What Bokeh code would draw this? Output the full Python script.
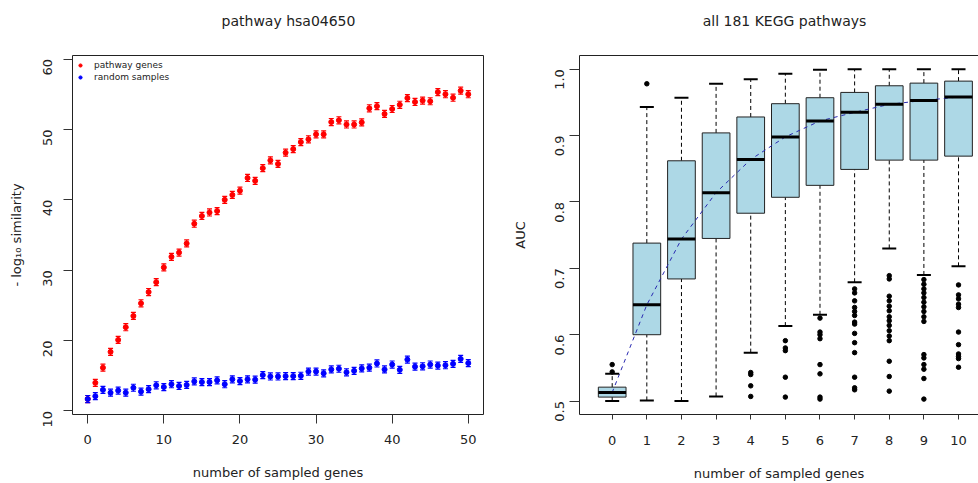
import math
from bokeh.plotting import figure
from bokeh.models import (Range1d, FixedTicker, PrintfTickFormatter, Whisker, TeeHead,
                          ColumnDataSource, Legend, LegendItem, LinearAxis, Label)
from bokeh.layouts import row
from bokeh.embed import file_html
from bokeh.resources import INLINE

# ---------------- data: left panel ----------------
n_genes = list(range(51))
pathway_genes = [11.7, 14.0, 16.15, 18.4, 20.1, 21.9, 23.5, 25.3, 26.9, 28.3,
                 30.4, 31.9, 32.5, 33.8, 36.6, 37.7, 38.2, 38.4, 40.0, 40.7,
                 41.3, 43.1, 42.7, 44.5, 45.6, 45.1, 46.7, 47.2, 48.2, 48.6,
                 49.3, 49.3, 51.05, 51.3, 50.7, 50.7, 51.0, 53.0, 53.3, 52.2,
                 52.9, 53.5, 54.45, 53.9, 54.1, 54.0, 55.3, 55.0, 54.5, 55.5, 55.0]
random_samples = [11.7, 12.1, 13.0, 12.6, 12.9, 12.6, 13.3, 12.75, 13.1, 13.65,
                  13.4, 13.8, 13.55, 13.7, 14.2, 14.1, 14.1, 14.35, 13.8, 14.5,
                  14.25, 14.5, 14.45, 15.1, 14.9, 14.9, 14.95, 14.95, 15.0, 15.6,
                  15.6, 15.35, 15.9, 16.0, 15.5, 15.7, 16.05, 16.15, 16.75, 15.9,
                  16.6, 15.85, 17.3, 16.3, 16.35, 16.6, 16.45, 16.5, 16.7, 17.4, 16.8]
err_half = 0.5
left_xticks = [0, 10, 20, 30, 40, 50]
left_yticks = [10, 20, 30, 40, 50, 60]

# ---------------- data: right panel ----------------
cats = list(range(11))
q1 = [0.506, 0.600, 0.684, 0.745, 0.783, 0.807, 0.825, 0.849, 0.863, 0.863, 0.869]
med = [0.513, 0.645, 0.744, 0.814, 0.864, 0.898, 0.922, 0.935, 0.947, 0.953, 0.958]
q3 = [0.521, 0.738, 0.862, 0.904, 0.928, 0.948, 0.957, 0.965, 0.975, 0.979, 0.982]
whisk_lo = [0.500, 0.501, 0.500, 0.507, 0.573, 0.613, 0.630, 0.679, 0.730, 0.690, 0.703]
whisk_hi = [0.541, 0.943, 0.957, 0.978, 0.985, 0.993, 0.999, 1.000, 1.000, 1.000, 1.000]
outliers = [
    [0.555, 0.544],
    [0.978],
    [],
    [],
    [0.543, 0.540, 0.523, 0.507],
    [0.591, 0.580, 0.576, 0.536, 0.506],
    [0.625, 0.604, 0.600, 0.594, 0.555, 0.541, 0.506, 0.503],
    [0.669, 0.663, 0.651, 0.641, 0.635, 0.629, 0.619, 0.616, 0.602, 0.588, 0.573, 0.536, 0.520, 0.517],
    [0.689, 0.684, 0.658, 0.651, 0.643, 0.636, 0.627, 0.621, 0.614, 0.606, 0.598, 0.591, 0.560, 0.537, 0.515],
    [0.683, 0.676, 0.669, 0.663, 0.656, 0.649, 0.642, 0.635, 0.627, 0.620, 0.570, 0.565, 0.555, 0.548, 0.534, 0.503],
    [0.675, 0.660, 0.654, 0.646, 0.641, 0.604, 0.585, 0.571, 0.567, 0.564, 0.551],
]
right_yticks = [0.5, 0.6, 0.7, 0.8, 0.9, 1.0]

FONT = "DejaVu Sans"
TXT = "#222222"
LINE = "#222222"


def style_axis(ax):
    ax.axis_line_color = None
    ax.minor_tick_line_color = None
    ax.major_tick_in = 0
    ax.major_tick_line_color = "#333333"
    ax.major_label_text_font = FONT
    ax.major_label_text_font_size = "13px"
    ax.major_label_text_color = TXT
    ax.axis_label_text_font = FONT
    ax.axis_label_text_font_size = "13px"
    ax.axis_label_text_font_style = "normal"
    ax.axis_label_text_color = TXT


def title_label(text, x):
    # title drawn in the panel above the frame (screen units relative to that panel)
    return Label(x=x, y=35, x_units="screen", y_units="screen", text=text,
                 text_align="center", text_baseline="middle", text_font=FONT,
                 text_font_size="14px", text_color=TXT)


# ---------------- left panel ----------------
p1 = figure(width=508, height=483, output_backend="svg", toolbar_location=None,
            x_range=Range1d(-2, 52), y_range=Range1d(9.5, 60.5),
            min_border_left=72, min_border_right=25, min_border_top=55, min_border_bottom=68)
p1.grid.visible = False
p1.background_fill_color = "white"
p1.border_fill_color = "white"
p1.outline_line_color = LINE
p1.outline_line_width = 1
xb1 = p1.below[0]
yl1 = p1.left[0]
style_axis(xb1)
style_axis(yl1)
xb1.ticker = FixedTicker(ticks=left_xticks)
yl1.ticker = FixedTicker(ticks=left_yticks)
xb1.major_tick_out = 9
yl1.major_tick_out = 9
xb1.major_label_standoff = 11
yl1.major_label_standoff = 16
yl1.major_label_orientation = math.pi / 2
xb1.axis_label = "number of sampled genes"
yl1.axis_label = "- log\u2081\u2080 similarity"
xb1.axis_label_standoff = 18
yl1.axis_label_standoff = 12
p1.add_layout(title_label("pathway hsa04650", 216), "above")

src_r = ColumnDataSource(dict(x=n_genes, y=pathway_genes,
                              lo=[v - err_half for v in pathway_genes],
                              hi=[v + err_half for v in pathway_genes]))
src_b = ColumnDataSource(dict(x=n_genes, y=random_samples,
                              lo=[v - err_half for v in random_samples],
                              hi=[v + err_half for v in random_samples]))
for src, col in ((src_r, "#ff0000"), (src_b, "#0000ff")):
    p1.add_layout(Whisker(source=src, base="x", upper="hi", lower="lo", dimension="height",
                          line_color=col, line_width=1.2,
                          upper_head=TeeHead(size=5, line_color=col, line_width=1.2),
                          lower_head=TeeHead(size=5, line_color=col, line_width=1.2)))
r_red = p1.scatter("x", "y", source=src_r, size=5, color="#ff0000")
r_blue = p1.scatter("x", "y", source=src_b, size=5, color="#0000ff")

leg = Legend(items=[LegendItem(label="pathway genes", renderers=[r_red]),
                    LegendItem(label="random samples", renderers=[r_blue])],
             location="top_left", padding=0, margin=4, spacing=0,
             glyph_width=8, glyph_height=12, label_height=12, label_standoff=10,
             label_text_font=FONT, label_text_font_size="9px", label_text_color=TXT,
             border_line_color=None, background_fill_alpha=0)
p1.add_layout(leg)

# ---------------- right panel ----------------
p2 = figure(width=470, height=483, output_backend="svg", toolbar_location=None,
            x_range=Range1d(-0.944, 10.577), y_range=Range1d(0.4798, 1.0206),
            min_border_left=71, min_border_right=0, min_border_top=55, min_border_bottom=68)
p2.grid.visible = False
p2.background_fill_color = "white"
p2.border_fill_color = "white"
p2.outline_line_color = None
xb2 = p2.below[0]
yl2 = p2.left[0]
style_axis(xb2)
style_axis(yl2)
xb2.axis_line_color = LINE
yl2.axis_line_color = LINE
xb2.ticker = FixedTicker(ticks=cats)
yl2.ticker = FixedTicker(ticks=right_yticks)
yl2.formatter = PrintfTickFormatter(format="%.1f")
xb2.major_tick_out = 5
yl2.major_tick_out = 10
xb2.major_label_standoff = 16
yl2.major_label_standoff = 10
yl2.major_label_orientation = math.pi / 2
xb2.axis_label = "number of sampled genes"
yl2.axis_label = "AUC"
xb2.axis_label_standoff = 18
yl2.axis_label_standoff = 20
# empty axis above the frame that draws the top edge of the box
top2 = LinearAxis(ticker=FixedTicker(ticks=[]), axis_line_color=LINE,
                  major_tick_line_color=None, minor_tick_line_color=None,
                  major_tick_out=0, major_tick_in=0, major_label_standoff=0)
p2.add_layout(top2, "above")
p2.add_layout(title_label("all 181 KEGG pathways", 205), "above")

BOX_W = 0.8
p2.segment(x0=cats, y0=q3, x1=cats, y1=whisk_hi, line_color="black", line_dash="4 3", line_width=1)
p2.segment(x0=cats, y0=whisk_lo, x1=cats, y1=q1, line_color="black", line_dash="4 3", line_width=1)
p2.vbar(x=cats, width=BOX_W, bottom=q1, top=q3, fill_color="#add8e6", line_color=LINE, line_width=1)
p2.line(x=cats, y=med, line_color="#2828b0", line_dash="4 4", line_width=1)
p2.segment(x0=[c - BOX_W / 2 for c in cats], y0=med, x1=[c + BOX_W / 2 for c in cats], y1=med,
           line_color="black", line_width=3)
p2.scatter(x=cats, y=whisk_hi, marker="dash", size=14, line_color="black", line_width=2)
p2.scatter(x=cats, y=whisk_lo, marker="dash", size=14, line_color="black", line_width=2)
ox = [c for c, vals in zip(cats, outliers) for _ in vals]
oy = [v for vals in outliers for v in vals]
p2.scatter(x=ox, y=oy, size=4.5, color="black")

layout = row(p1, p2)
open("out.html", "w").write(file_html(layout, INLINE))
